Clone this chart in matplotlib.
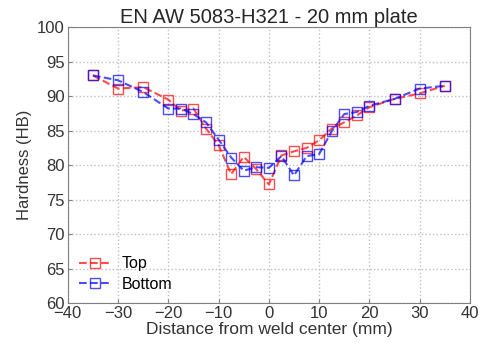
import numpy as np
import matplotlib
matplotlib.use("Agg")
from matplotlib import pyplot as plt

# distance from weld center (mm)
x_top = [-35, -30, -25, -20, -17.5, -15, -12.5, -10, -7.5, -5, -2.5, 0,
         2.5, 5, 7.5, 10, 12.5, 15, 17.5, 20, 25, 30, 35]
hb_top = [93.0, 91.1, 91.3, 89.5, 87.9, 88.2, 85.3, 82.9, 78.7, 81.2, 79.4, 77.2,
          81.4, 82.0, 82.5, 83.6, 85.3, 86.2, 87.2, 88.4, 89.6, 90.4, 91.5]

x_bot = [-35, -30, -25, -20, -17.5, -15, -12.5, -10, -7.5, -5, -2.5, 0,
         2.5, 5, 7.5, 10, 12.5, 15, 17.5, 20, 25, 30, 35]
hb_bot = [93.0, 92.3, 90.6, 88.2, 88.2, 87.4, 86.2, 83.7, 81.1, 79.2, 79.7, 79.6,
          81.3, 78.5, 81.3, 81.6, 84.9, 87.4, 87.7, 88.6, 89.6, 91.1, 91.5]

plt.rcParams['font.family'] = ['Liberation Sans', 'DejaVu Sans']
plt.rcParams['font.size'] = 12

fig = plt.figure(figsize=(4.84, 3.48), dpi=100)
ax = fig.add_axes([0.140, 0.129, 0.831, 0.793])

ax.plot(x_top, hb_top, '--s', color='r', mfc='none', mec='r', ms=7.5, mew=1.0,
        lw=1.5, alpha=0.7, label='Top')
ax.plot(x_bot, hb_bot, '--s', color='b', mfc='none', mec='b', ms=7.5, mew=1.0,
        lw=1.5, alpha=0.7, label='Bottom')

ax.set_xlim(-40, 40)
ax.set_ylim(60, 100)
ax.set_xticks(np.arange(-40, 41, 10))
ax.set_yticks(np.arange(60, 101, 5))
ax.grid(True, ls=':', color='0.75', lw=1)
ax.tick_params(direction='in', colors='0.5', labelcolor='0.2', length=3,
               labelsize=12, pad=2)
for s in ax.spines.values():
    s.set_color('0.5')

ax.set_title('EN AW 5083-H321 - 20 mm plate', color='0.15', fontsize=14.5, pad=3)
ax.set_xlabel('Distance from weld center (mm)', color='0.2', fontsize=12.5, labelpad=1)
ax.set_ylabel('Hardness (HB)', color='0.2', fontsize=12, labelpad=4)
ax.legend(loc='lower left', frameon=False, handlelength=2, fontsize=11.5,
          borderaxespad=0.3, handletextpad=0.7, labelspacing=0.35)

fig.savefig('out.png', dpi=100)
